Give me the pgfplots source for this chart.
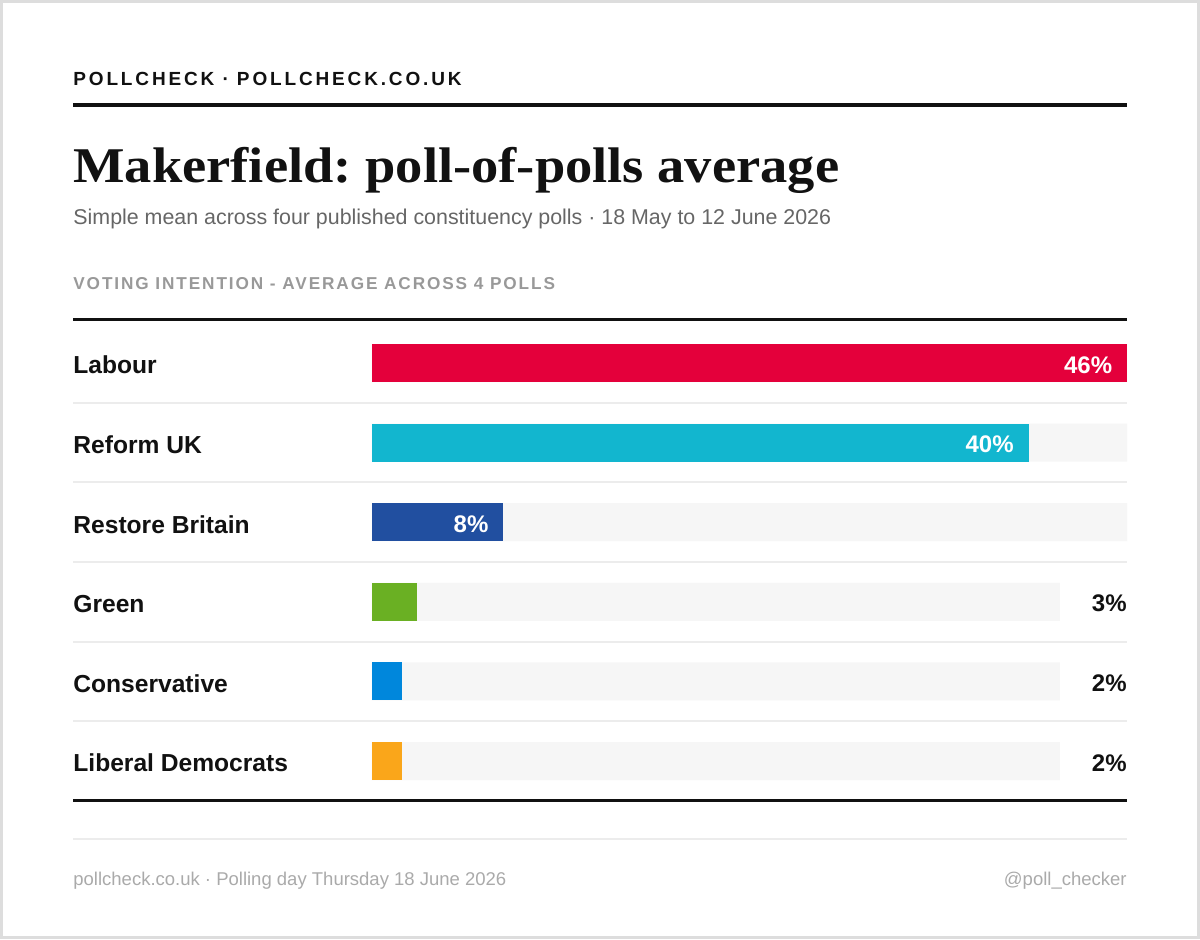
\documentclass[border=0pt]{standalone}
\usepackage{fontspec}
\setmainfont{Liberation Sans}
\newfontfamily\titlefont[FakeStretch=1.09]{Liberation Serif}
\newfontfamily\spacedfont[LetterSpace=15]{Liberation Sans}
\newfontfamily\secfont[LetterSpace=11]{Liberation Sans}
\usepackage{pgfplots}
\pgfplotsset{compat=1.18}
\usepackage{pgfplotstable}
\definecolor{labour}{HTML}{E4003B}
\definecolor{reform}{HTML}{12B6CF}
\definecolor{restore}{HTML}{214FA0}
\definecolor{green}{HTML}{6AB023}
\definecolor{con}{HTML}{0087DC}
\definecolor{libdem}{HTML}{FAA61A}
\definecolor{track}{HTML}{F6F6F6}
\definecolor{sepgray}{HTML}{ECECEC}
\definecolor{bordergray}{HTML}{DDDDDD}
\definecolor{subgray}{HTML}{666666}
\definecolor{secgray}{HTML}{999999}
\definecolor{footgray}{HTML}{AAAAAA}
\definecolor{ink}{HTML}{111111}

\pgfplotstableread{
y v
3 3
4 2
5 2
}\bottomtable

\pgfplotsset{
  rowaxis/.style={
    scale only axis, height=119.4pt,
    xmin=0, xmax=46, y dir=reverse,
    axis line style={draw=none}, major tick length=0pt,
    xtick=\empty, clip=false,
    /pgf/number format/assume math mode=true,
    yticklabel style={font=\bfseries\fontsize{12.3}{14}\selectfont, text=ink,
      anchor=base west, xshift=-149.5pt, yshift=-5.4pt, inner sep=0pt},
  },
  barstyle/.style={xbar, bar width=19pt, bar shift=0pt, draw=none},
  inlabel/.style={point meta=x,
    nodes near coords={\pgfmathprintnumber{\pgfplotspointmeta}\%},
    every node near coord/.append style={font=\bfseries\fontsize{12}{14}\selectfont,
      text=white, inner sep=0pt, anchor=base east, xshift=-7.25pt, yshift=-5pt}},
}

\begin{document}
\frenchspacing
\begin{tikzpicture}
\useasboundingbox (0pt,0pt) rectangle (600pt,-469.5pt);
\fill[white] (0pt,0pt) rectangle (600pt,-469.5pt);
\draw[bordergray, line width=1.5pt] (0.75pt,-0.75pt) rectangle (599.25pt,-468.75pt);

\node[anchor=base west, inner sep=0pt, text=ink] at (36.5pt,-42.5pt)
  {\spacedfont\bfseries\fontsize{9.5}{11}\selectfont POLLCHECK · POLLCHECK.CO.UK};
\fill[ink] (36.5pt,-51.5pt) rectangle (563.5pt,-53.5pt);
\node[anchor=base west, inner sep=0pt, text=ink] at (36.5pt,-91pt)
  {\titlefont\bfseries\fontsize{25}{28}\selectfont Makerfield: poll-of-polls average};
\node[anchor=base west, inner sep=0pt, text=subgray] at (36.5pt,-112pt)
  {\fontsize{10.7}{12}\selectfont Simple mean across four published constituency polls · 18 May to 12 June 2026};
\node[anchor=base west, inner sep=0pt, text=secgray] at (36.5pt,-144.75pt)
  {\secfont\bfseries\fontsize{8.6}{10}\selectfont VOTING INTENTION - AVERAGE ACROSS 4 POLLS};
\fill[ink] (36.5pt,-158.75pt) rectangle (563.5pt,-160.25pt);
\foreach \yy in {-201.4,-241.2,-281,-320.8,-360.6}
  \draw[sepgray, line width=1pt] (36.5pt,\yy pt) -- (563.5pt,\yy pt);
\fill[ink] (36.5pt,-399.5pt) rectangle (563.5pt,-401pt);
\draw[sepgray, line width=1pt] (36.5pt,-419.5pt) -- (563.5pt,-419.5pt);
\node[anchor=base west, inner sep=0pt, text=footgray] at (36.5pt,-442.5pt)
  {\fontsize{9.25}{11}\selectfont pollcheck.co.uk · Polling day Thursday 18 June 2026};
\node[anchor=base east, inner sep=0pt, text=footgray] at (563.5pt,-442.5pt)
  {\fontsize{9.25}{11}\selectfont @poll\_checker};

% top three rows: labels inside the bars
\begin{axis}[rowaxis, at={(186pt,-161.6pt)}, anchor=north west, width=377.5pt,
  ymin=-0.5, ymax=2.5, ytick={0,1,2},
  yticklabels={Labour, Reform UK, Restore Britain}]
\addplot[barstyle, fill=track] coordinates {(46,0) (46,1) (46,2)};
\addplot[barstyle, fill=labour, inlabel] coordinates {(46,0)};
\addplot[barstyle, fill=reform, inlabel] coordinates {(40,1)};
\addplot[barstyle, fill=restore, inlabel] coordinates {(8,2)};
\end{axis}

% bottom three rows: labels outside, narrower track
\begin{axis}[rowaxis, at={(186pt,-281pt)}, anchor=north west, width=344pt,
  ymin=2.5, ymax=5.5, ytick={3,4,5},
  yticklabels={Green, Conservative, Liberal Democrats}]
\addplot[barstyle, fill=track] coordinates {(46,3) (46,4) (46,5)};
\addplot[barstyle, fill=green] coordinates {(3,3)};
\addplot[barstyle, fill=con] coordinates {(2,4)};
\addplot[barstyle, fill=libdem] coordinates {(2,5)};
\addplot[only marks, mark=none, point meta=explicit,
  nodes near coords={\pgfmathprintnumber{\pgfplotspointmeta}\%},
  every node near coord/.append style={font=\bfseries\fontsize{12}{14}\selectfont,
    text=ink, inner sep=0pt, anchor=base east, yshift=-5pt}]
  table[x expr=50.48, y=y, meta=v] {\bottomtable};
\end{axis}
\end{tikzpicture}
\end{document}
